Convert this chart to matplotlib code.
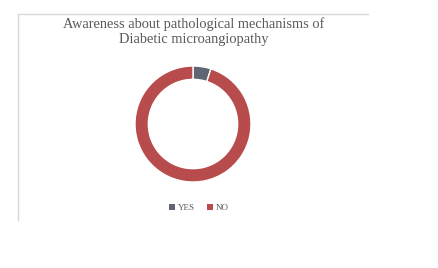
import matplotlib.pyplot as plt
from matplotlib.lines import Line2D
from matplotlib.patches import Patch

labels = ['YES', 'NO']
values = [5, 95]
colors = ['#5f6573', '#b84b4b']

fig = plt.figure(figsize=(4.39, 2.68), dpi=100)

# chart frame: only top and left edges visible
fig.add_artist(Line2D([18/439, 368/439], [1 - 14/268, 1 - 14/268], color='#d9d9d9', lw=1))
fig.add_artist(Line2D([18/439, 18/439], [1 - 14/268, 1 - 220/268], color='#d9d9d9', lw=1))

fig.text(194/439, 1 - 24/268, 'Awareness about pathological mechanisms of',
         ha='center', va='center', fontsize=10.4, family='Liberation Serif', color='#595959')
fig.text(194/439, 1 - 40/268, 'Diabetic microangiopathy',
         ha='center', va='center', fontsize=10.4, family='Liberation Serif', color='#595959')

r = 58
ax = fig.add_axes([(193 - r)/439, 1 - (124 + r)/268, 2*r/439, 2*r/268])
ax.pie(values, colors=colors, startangle=90, counterclock=False,
       wedgeprops=dict(width=0.23, edgecolor='white', linewidth=1))
ax.set_aspect('equal')
ax.set_xlim(-1, 1)
ax.set_ylim(-1, 1)

handles = [Patch(facecolor=c, label=l) for c, l in zip(colors, labels)]
fig.legend(handles=handles, loc='center', bbox_to_anchor=(199/439, 1 - 208/268),
           ncol=2, frameon=False, handlelength=0.7, handleheight=0.7,
           handletextpad=0.3, columnspacing=1.3, labelcolor='#595959',
           prop={'family': 'Liberation Serif', 'size': 6.5})

fig.savefig('out.png', dpi=100)
